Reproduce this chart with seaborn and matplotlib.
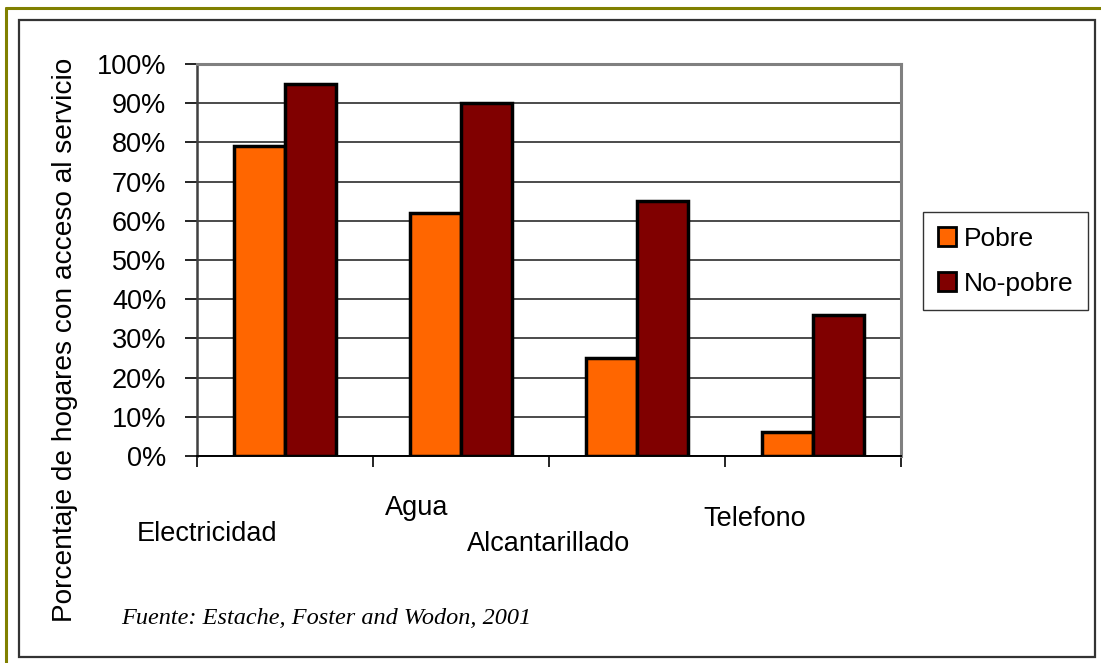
import pandas as pd
import seaborn as sns
import matplotlib

matplotlib.use("Agg")
import matplotlib.pyplot as plt
from matplotlib.patches import Rectangle, Patch
from matplotlib.lines import Line2D

# datos
servicios = ["Electricidad", "Agua", "Alcantarillado", "Telefono"]
grupos = ["Pobre", "No-pobre"]
pobre = [79, 62, 25, 6]
no_pobre = [95, 90, 65, 36]
colores = ["#FF6600", "#800000"]
y_ticks = [0, 10, 20, 30, 40, 50, 60, 70, 80, 90, 100]

# posiciones de las etiquetas (escalonadas como en el original)
lab_x = [-0.44, 0.75, 1.5, 2.67]
lab_y = [-0.20, -0.133, -0.225, -0.161]

W, H = 1101, 663

df = pd.DataFrame({
    "servicio": servicios * 2,
    "grupo": [grupos[0]] * 4 + [grupos[1]] * 4,
    "valor": pobre + no_pobre,
})

sns.set_style("white")
plt.rcParams["font.family"] = ["Liberation Sans", "DejaVu Sans"]
plt.rcParams["text.color"] = "black"
plt.rcParams["ytick.labelcolor"] = "black"

fig = plt.figure(figsize=(W / 100, H / 100), dpi=100)
ax = fig.add_axes([197 / W, 1 - 456 / H, (901 - 197) / W, (456 - 64) / H])

sns.barplot(
    data=df, x="servicio", y="valor", hue="grupo",
    palette=colores, width=0.574, gap=0, ax=ax,
    edgecolor="black", linewidth=2.5, saturation=1, legend=False,
)

ax.set_ylim(0, 100)
ax.set_xlim(-0.5, 3.5)
ax.set_yticks(y_ticks)
ax.set_yticklabels([f"{v}%" for v in y_ticks], fontsize=19.5, color="black")
ax.set_xticks([-0.5, 0.5, 1.5, 2.5, 3.5])
ax.set_xticklabels([])
ax.set_xlabel("")
ax.set_ylabel("")
ax.tick_params(axis="y", direction="out", length=9, width=1.2, color="black", pad=13, left=True)
ax.tick_params(axis="x", direction="out", length=8, width=1.2, color="black", bottom=True)
ax.yaxis.grid(True, color="#1a1a1a", linewidth=1.1)
ax.set_axisbelow(True)

ax.spines["top"].set_color("#808080")
ax.spines["top"].set_linewidth(2.2)
ax.spines["right"].set_color("#808080")
ax.spines["right"].set_linewidth(2.2)
ax.spines["left"].set_color("#404040")
ax.spines["left"].set_linewidth(1.8)
ax.spines["bottom"].set_color("black")
ax.spines["bottom"].set_linewidth(1.4)

for nombre, xx, yy in zip(servicios, lab_x, lab_y):
    ax.text(xx, yy, nombre, transform=ax.get_xaxis_transform(),
            ha="center", va="center", fontsize=19.5, color="black")

fig.text(65 / W, 1 - 340 / H, "Porcentaje de hogares con acceso al servicio",
         rotation=90, ha="center", va="center", fontsize=20.2, color="black")

fig.text(121 / W, 1 - 619 / H, "Fuente: Estache, Foster and Wodon, 2001",
         ha="left", va="center", fontsize=17.5, style="italic", color="black",
         family=["Liberation Serif", "DejaVu Serif"])

handles = [Patch(facecolor=c, edgecolor="black", linewidth=2) for c in colores]
leg = fig.legend(handles, grupos, loc="upper left",
                 bbox_to_anchor=(923 / W, 1 - 212 / H), fontsize=19,
                 frameon=True, fancybox=False, edgecolor="black",
                 handlelength=0.7, handleheight=0.7, handletextpad=0.3,
                 labelspacing=0.8, borderpad=0.55, borderaxespad=0)
leg.get_frame().set_linewidth(1.0)
for t in leg.get_texts():
    t.set_color("black")

# marcos de la figura
fig.add_artist(Rectangle((19 / W, 1 - 657 / H), (1095 - 19) / W, (657 - 20) / H,
                         transform=fig.transFigure, fill=False,
                         edgecolor="#333333", linewidth=1.6))
fig.add_artist(Line2D([6 / W, 1], [1 - 8 / H, 1 - 8 / H], transform=fig.transFigure,
                      color="#808000", linewidth=2.2))
fig.add_artist(Line2D([6 / W, 6 / W], [0, 1 - 8 / H], transform=fig.transFigure,
                      color="#808000", linewidth=2.2))

fig.savefig("out.png", dpi=100)
